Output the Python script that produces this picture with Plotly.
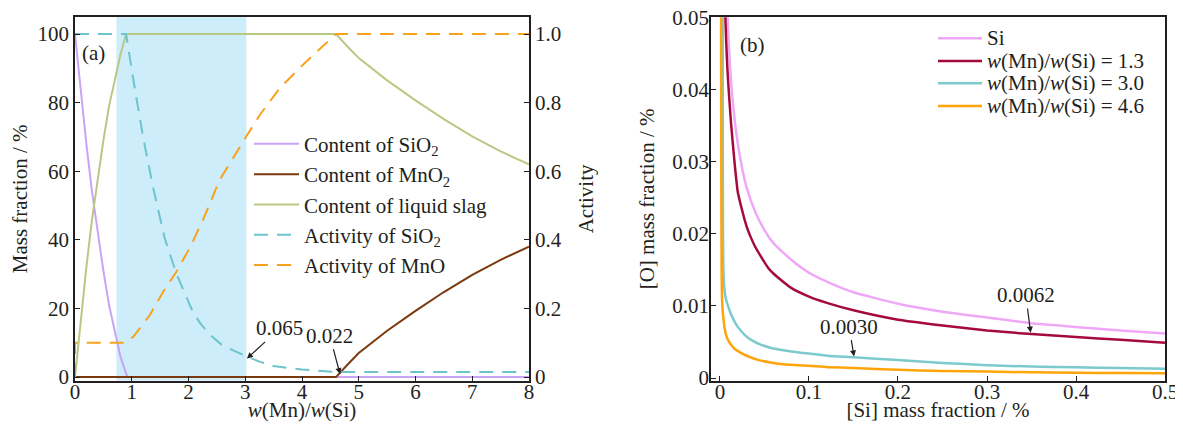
import plotly.graph_objects as go

# ---------------- panel (a) data ----------------
ratio_ticks = [0, 1, 2, 3, 4, 5, 6, 7, 8]
mass_ticks = [0, 20, 40, 60, 80, 100]
act_ticks = [0, 0.2, 0.4, 0.6, 0.8, 1.0]
act_ticklabels = ["0", "0.2", "0.4", "0.6", "0.8", "1.0"]

sio2_x = [0, 0.1, 0.2, 0.3, 0.4, 0.5, 0.6, 0.7, 0.8, 0.9, 0.93, 2.0, 4.6, 8.0]
sio2_content = [100, 83, 68, 54, 42, 31, 21, 13, 6, 1, 0, 0, 0, 0]

mno2_x = [0, 4.6, 4.8, 5.0, 5.5, 6.0, 6.5, 7.0, 7.5, 8.0]
mno2_content = [0, 0, 3.6, 7.0, 13.5, 19.3, 24.8, 29.8, 34.2, 38]

slag_x = [0, 0.1, 0.2, 0.3, 0.4, 0.5, 0.6, 0.7, 0.8, 0.9, 4.6, 4.8, 5.0, 5.5, 6.0, 6.5, 7.0, 7.5, 8.0]
slag_content = [0, 17, 32, 46, 58, 69, 79, 87, 94, 100, 100, 96.4, 93, 86.5, 80.7, 75.2, 70.2, 65.8, 62]

a_sio2_x = [0, 0.9, 1.05, 1.2, 1.38, 1.58, 1.79, 2.05, 2.2, 2.38, 2.6, 2.85, 3.0, 3.25, 3.5, 4.0, 4.6, 8.0]
a_sio2 = [1.0, 1.0, 0.845, 0.70, 0.55, 0.405, 0.30, 0.20, 0.158, 0.123, 0.092, 0.072, 0.062, 0.045, 0.032, 0.022, 0.015, 0.015]

a_mno_x = [0, 0, 0.88, 1.03, 1.32, 1.555, 1.79, 2.02, 2.26, 2.55, 3.02, 3.26, 3.61, 4.08, 4.6, 8.0]
a_mno = [0, 0.1, 0.1, 0.118, 0.181, 0.249, 0.308, 0.376, 0.46, 0.575, 0.702, 0.765, 0.843, 0.921, 1.0, 1.0]

shade_range = [0.73, 3.02]

# ---------------- panel (b) data ----------------
si_ticks = [0, 0.1, 0.2, 0.3, 0.4, 0.5]
si_ticklabels = ["0", "0.1", "0.2", "0.3", "0.4", "0.5"]
o_ticks = [0, 0.01, 0.02, 0.03, 0.04, 0.05]
o_ticklabels = ["0", "0.01", "0.02", "0.03", "0.04", "0.05"]

si_x = [0.008, 0.01, 0.0125, 0.015, 0.02, 0.025, 0.03, 0.04, 0.05, 0.06, 0.08, 0.1,
        0.125, 0.15, 0.2, 0.25, 0.3, 0.35, 0.4, 0.45, 0.5]
si_o = [0.0515, 0.0460, 0.0410, 0.0375, 0.0325, 0.0290, 0.0264, 0.0229, 0.0205, 0.0187,
        0.0164, 0.0146, 0.0131, 0.0119, 0.0103, 0.0092, 0.0084, 0.0076, 0.0071, 0.0066, 0.0062]

r13_x = [0.0058, 0.007, 0.0085, 0.01, 0.0125, 0.0165, 0.02, 0.025, 0.03, 0.035, 0.04, 0.054,
         0.06, 0.08, 0.1, 0.121, 0.15, 0.2, 0.25, 0.3, 0.35, 0.4, 0.45, 0.5]
r13_o = [0.0510, 0.0465, 0.0425, 0.0395, 0.0352, 0.0297, 0.0258, 0.0232, 0.0210, 0.0194,
         0.0181, 0.0153, 0.0145, 0.0125, 0.0113, 0.0104, 0.0094, 0.0081, 0.0073, 0.0066,
         0.0061, 0.0057, 0.0053, 0.0049]

r30_x = [0.0030, 0.0033, 0.0036, 0.0042, 0.0055, 0.007, 0.009, 0.0125, 0.0165, 0.02, 0.0277,
         0.035, 0.0464, 0.06, 0.08, 0.1, 0.121, 0.15, 0.2, 0.25, 0.3, 0.35, 0.4, 0.45, 0.5]
r30_o = [0.0510, 0.0250, 0.0165, 0.0138, 0.0118, 0.0108, 0.0100, 0.0088, 0.0078, 0.0071,
         0.0060, 0.0053, 0.0046, 0.0041, 0.0037, 0.0034, 0.0031, 0.0029, 0.0025, 0.0021,
         0.0018, 0.0016, 0.0015, 0.0014, 0.0013]

r46_x = [0.0012, 0.0014, 0.0016, 0.0019, 0.0023, 0.003, 0.004, 0.0052, 0.007, 0.0095, 0.0127,
         0.017, 0.024, 0.032, 0.0427, 0.06, 0.08, 0.1, 0.121, 0.15, 0.2, 0.25, 0.3, 0.35,
         0.4, 0.45, 0.5]
r46_o = [0.0510, 0.0350, 0.0220, 0.0140, 0.0110, 0.0094, 0.0081, 0.0069, 0.0059, 0.0052,
         0.0046, 0.0040, 0.00346, 0.0030, 0.00253, 0.0021, 0.00184, 0.0017, 0.00152, 0.0014,
         0.00115, 0.0010, 0.0009, 0.0008, 0.00074, 0.0007, 0.00066]

legend_b = ["Si", "<i>w</i>(Mn)/<i>w</i>(Si) = 1.3", "<i>w</i>(Mn)/<i>w</i>(Si) = 3.0",
            "<i>w</i>(Mn)/<i>w</i>(Si) = 4.6"]

# ---------------- styling ----------------
# the page body has an 8px margin, so the figure is drawn 8px in from the top-left corner;
# keep the page from scrolling by leaving the bottom 8px margin inside the window too
OFF = 8
W, H = 1183 - OFF, 430 - 2 * OFF


def px(x):
    return (x - OFF) / W


def py(y):
    return (OFF + H - y) / H


FONT = "Liberation Serif"
INK = "#231F20"
FS = 21
C_SIO2 = "#C9A3F6"
C_MNO2 = "#7A3A0E"
C_SLAG = "#B9C983"
C_ASIO2 = "#6EC4CE"
C_AMNO = "#F8A21C"
C_SI = "#EEA8F7"
C_13 = "#A60A3D"
C_30 = "#7CCACB"
C_46 = "#FFA40A"
DASH = "14px,9px"

fig = go.Figure()

# panel (a)
fig.add_trace(go.Scatter(x=sio2_x, y=sio2_content, mode="lines", name="Content of SiO<sub>2</sub>",
                         line=dict(color=C_SIO2, width=2), xaxis="x", yaxis="y"))
fig.add_trace(go.Scatter(x=mno2_x, y=mno2_content, mode="lines", name="Content of MnO<sub>2</sub>",
                         line=dict(color=C_MNO2, width=2), xaxis="x", yaxis="y"))
fig.add_trace(go.Scatter(x=slag_x, y=slag_content, mode="lines", name="Content of liquid slag",
                         line=dict(color=C_SLAG, width=2), xaxis="x", yaxis="y"))
fig.add_trace(go.Scatter(x=a_sio2_x, y=a_sio2, mode="lines", name="Activity of SiO<sub>2</sub>",
                         line=dict(color=C_ASIO2, width=2, dash=DASH), xaxis="x", yaxis="y2"))
fig.add_trace(go.Scatter(x=a_mno_x, y=a_mno, mode="lines", name="Activity of MnO",
                         line=dict(color=C_AMNO, width=2, dash=DASH), xaxis="x", yaxis="y2"))

# panel (b)
for xs, ys, col, nm in [(si_x, si_o, C_SI, legend_b[0]), (r13_x, r13_o, C_13, legend_b[1]),
                        (r30_x, r30_o, C_30, legend_b[2]), (r46_x, r46_o, C_46, legend_b[3])]:
    fig.add_trace(go.Scatter(x=xs, y=ys, mode="lines", name=nm, showlegend=False,
                             line=dict(color=col, width=2.5, shape="spline", smoothing=0.5),
                             xaxis="x2", yaxis="y3"))

ydom = [py(380.5), py(17.3)]
axis_common = dict(showgrid=False, zeroline=False, showline=True, linecolor=INK, linewidth=1.5,
                   ticks="inside", ticklen=5, tickwidth=1.2, tickcolor=INK, automargin=False,
                   ticklabeloverflow="allow",
                   tickfont=dict(family=FONT, size=FS, color=INK))
title_font = dict(family=FONT, size=FS, color=INK)

fig.update_layout(
    width=W, height=H, margin=dict(l=0, r=0, t=0, b=0, autoexpand=False),
    paper_bgcolor="white", plot_bgcolor="white",
    font=dict(family=FONT, size=FS, color=INK),
    xaxis=dict(domain=[px(75), px(529)], range=[0, 8], anchor="y", mirror=True,
               tickvals=ratio_ticks, ticklabelstandoff=-8,
               title=dict(text="<i>w</i>(Mn)/<i>w</i>(Si)", font=title_font, standoff=6),
               **axis_common),
    yaxis=dict(domain=ydom, range=[-1.0, 104.9], anchor="x", tickvals=mass_ticks,
               title=dict(text="Mass fraction / %", font=title_font, standoff=5), **axis_common),
    yaxis2=dict(overlaying="y", side="right", anchor="x", range=[-0.0100, 1.049],
                tickvals=act_ticks, ticktext=act_ticklabels,
                title=dict(text="Activity", font=title_font, standoff=18), **axis_common),
    xaxis2=dict(domain=[px(711), px(1165)], range=[-0.0101, 0.5], anchor="y3", mirror=True,
                tickvals=si_ticks, ticktext=si_ticklabels, ticklabelstandoff=-8,
                title=dict(text="[Si] mass fraction / %", font=title_font, standoff=14),
                **axis_common),
    yaxis3=dict(domain=ydom, range=[-0.00033, 0.05], anchor="x2", mirror=True,
                tickvals=o_ticks, ticktext=o_ticklabels, ticklabelstandoff=-4,
                title=dict(text="[O] mass fraction / %", font=title_font, standoff=12),
                **axis_common),
    legend=dict(x=px(249), y=py(123.7), xanchor="left", yanchor="top", itemwidth=45,
                bgcolor="rgba(0,0,0,0)", borderwidth=0, tracegroupgap=0,
                font=dict(family=FONT, size=FS, color=INK)),
    showlegend=True,
)

# shaded region
fig.add_shape(type="rect", xref="x", yref="y domain", x0=shade_range[0], x1=shade_range[1],
              y0=0, y1=1, fillcolor="#CCEDF9", line=dict(width=0), layer="below")

# manual legend for panel (b)
leg_rows_px = [38.3, 61.0, 83.3, 106.0]
for txt, col, ypx in zip(legend_b, [C_SI, C_13, C_30, C_46], leg_rows_px):
    fig.add_shape(type="line", xref="paper", yref="paper", x0=px(938), x1=px(982),
                  y0=py(ypx), y1=py(ypx), line=dict(color=col, width=2.5))
    fig.add_annotation(xref="paper", yref="paper", x=px(985), y=py(ypx), text=txt,
                       showarrow=False, xanchor="left", yanchor="middle", height=22, valign="middle",
                       font=dict(family=FONT, size=FS, color=INK))

# text labels panel (a)
fig.add_annotation(xref="x", yref="y", x=0.33, y=94.4, text="(a)", showarrow=False,
                   font=dict(family=FONT, size=FS, color=INK))
arrow_kw = dict(showarrow=True, arrowhead=2, arrowsize=1, arrowwidth=1.2, arrowcolor=INK,
                font=dict(family=FONT, size=FS, color=INK))
fig.add_annotation(xref="x", yref="y", x=3.03, y=5.4, axref="x", ayref="y", ax=3.61, ay=14.2,
                   text="0.065", **arrow_kw)
fig.add_annotation(xref="x", yref="y", x=4.67, y=0.9, axref="x", ayref="y", ax=4.49, ay=12.1,
                   text="0.022", **arrow_kw)

# text labels panel (b)
fig.add_annotation(xref="x2", yref="y3", x=0.0365, y=0.0462, text="(b)", showarrow=False,
                   font=dict(family=FONT, size=FS, color=INK))
fig.add_annotation(xref="x2", yref="y3", x=0.349, y=0.0063, axref="x2", ayref="y3",
                   ax=0.3436, ay=0.01152, text="0.0062", **arrow_kw)
fig.add_annotation(xref="x2", yref="y3", x=0.1506, y=0.0030, axref="x2", ayref="y3",
                   ax=0.145, ay=0.00714, text="0.0030", **arrow_kw)

fig.write_html("out.html")
